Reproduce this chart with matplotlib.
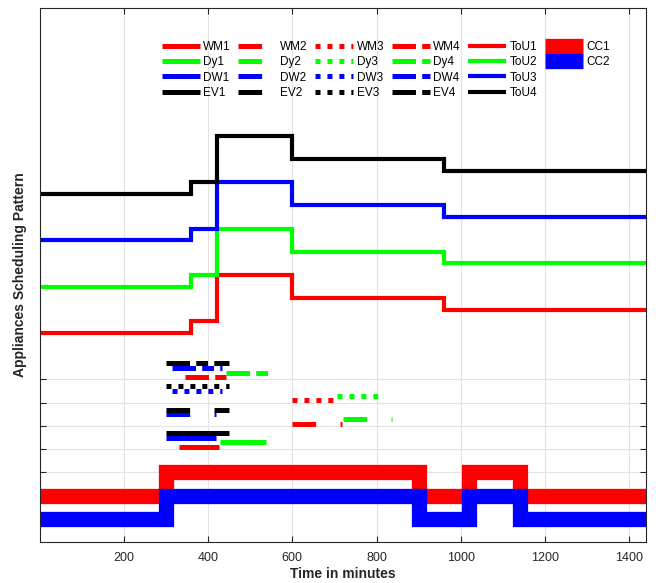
import matplotlib
matplotlib.use("Agg")
import matplotlib.pyplot as plt
from matplotlib.lines import Line2D

plt.rcParams['font.family'] = ['Liberation Sans', 'DejaVu Sans']
# los patrones de guiones se dan en puntos, sin escalar con el grosor
plt.rcParams['lines.scale_dashes'] = False

# tarifas ToU (escalonadas)
minutos_tou = [0, 360, 420, 600, 960, 1440]
tou1 = [7, 7.5, 9.5, 8.5, 8, 8]
tou2 = [9, 9.5, 11.5, 10.5, 10, 10]
tou3 = [11, 11.5, 13.5, 12.5, 12, 12]
tou4 = [13, 13.5, 15.5, 14.5, 14, 14]

# curvas CC
minutos_cc = [0, 300, 900, 1020, 1140, 1440]
cc1 = [0, 1, 0, 1, 0, 0]
cc2 = [-1, 0, -1, 0, -1, -1]

# electrodomesticos: inicio, fin y nivel para los escenarios 1..4
wm_inicio = [331, 600, 600, 345]
wm_fin = [426, 718, 710, 442]
wm_nivel = [2.1, 3.1, 4.1, 5.1]

dy_inicio = [429, 720, 706, 443]
dy_fin = [538, 838, 815, 542]
dy_nivel = [2.3, 3.3, 4.3, 5.3]

dw_inicio = [300, 300, 315, 315]
dw_fin = [418, 419, 433, 433]
dw_nivel = [2.5, 3.5, 4.5, 5.5]

ev_inicio = [300, 300, 300, 300]
ev_fin = [449, 450, 450, 450]
ev_nivel = [2.7, 3.7, 4.7, 5.7]

x_ticks = [200, 400, 600, 800, 1000, 1200, 1400]
y_ticks = [1, 2, 3, 4, 5]

estilos = ['-', (0, (17, 17.6)), (0, (3.6, 5.0)), (0, (16.9, 4.5, 8.5, 4.5))]

fig = plt.figure(figsize=(6.56, 5.83), dpi=100)
ax = fig.add_axes([40 / 656, 41 / 583, 605.7 / 656, 534 / 583])

electro = [
    ('WM', '#ff0000', wm_inicio, wm_fin, wm_nivel),
    ('Dy', '#00ff00', dy_inicio, dy_fin, dy_nivel),
    ('DW', '#0000ff', dw_inicio, dw_fin, dw_nivel),
    ('EV', 'black', ev_inicio, ev_fin, ev_nivel),
]

handles = []
labels = []
for k in range(4):
    for nombre, color, ini, fin, niv in electro:
        h, = ax.plot([ini[k], fin[k]], [niv[k], niv[k]], color=color, lw=3.6,
                     linestyle=estilos[k], solid_capstyle='butt', dash_capstyle='butt')
        handles.append(h)
        labels.append(nombre + str(k + 1))

for serie, color, n in [(tou1, '#ff0000', 1), (tou2, '#00ff00', 2),
                        (tou3, '#0000ff', 3), (tou4, 'black', 4)]:
    h, = ax.plot(minutos_tou, serie, drawstyle='steps-post', color=color, lw=3,
                 solid_joinstyle='miter', solid_capstyle='butt')
    handles.append(h)
    labels.append('ToU' + str(n))

for serie, color, n in [(cc1, '#ff0000', 1), (cc2, '#0000ff', 2)]:
    h, = ax.plot(minutos_cc, serie, drawstyle='steps-post', color=color, lw=11,
                 solid_joinstyle='miter', solid_capstyle='butt')
    handles.append(h)
    labels.append('CC' + str(n))

# dos entradas vacias para que la ultima columna quede con CC1 y CC2
vacio = Line2D([], [], linestyle='none')
handles += [vacio, vacio]
labels += ['', '']

ax.set_xlim(0, 1440)
ax.set_ylim(-2, 21)
ax.set_xticks(x_ticks)
ax.set_yticks(y_ticks)
ax.set_yticklabels([])
ax.grid(True, color='#e3e3e3', lw=0.8)
ax.set_axisbelow(True)
ax.tick_params(direction='in', top=True, right=True, length=4, width=0.8,
               colors='#262626', labelsize=9, pad=7)
for s in ax.spines.values():
    s.set_color('#262626')
    s.set_linewidth(0.8)

ax.set_xlabel('Time in minutes', fontsize=10, fontweight='bold', color='#262626')
ax.set_ylabel('Appliances Scheduling Pattern', fontsize=10, fontweight='bold', color='#262626')
ax.xaxis.set_label_coords(0.5, -0.046)
ax.yaxis.set_label_coords(-0.022, 0.5)

ax.legend(handles, labels, ncol=6, frameon=False, fontsize=8.5,
          loc='upper left', bbox_to_anchor=(161.7 / 656, 542 / 583),
          bbox_transform=fig.transFigure, borderaxespad=0, borderpad=0,
          handlelength=3.22, handletextpad=0.3, columnspacing=0.64,
          labelspacing=0.28)

fig.savefig('out.png', dpi=100)
